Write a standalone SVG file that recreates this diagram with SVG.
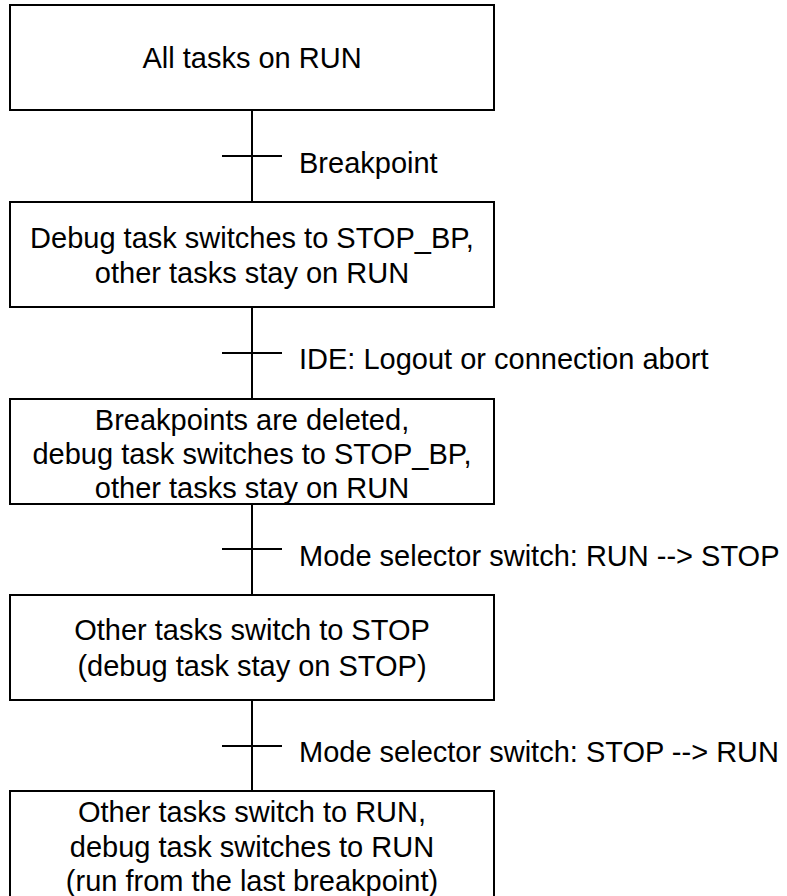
<svg xmlns="http://www.w3.org/2000/svg" width="787" height="896" viewBox="0 0 787 896">
<style>
.box{fill:#fff;stroke:#000;stroke-width:2}
.ln{stroke:#000;stroke-width:2;fill:none}
text{font-family:"Liberation Sans",Arial,sans-serif;font-size:29px;fill:#000}
.c{text-anchor:middle}
</style>
<rect width="787" height="896" fill="#fff"/>
<g id="connectors">
<line class="ln" x1="252" y1="110" x2="252" y2="202"/>
<line class="ln" x1="222" y1="156" x2="282" y2="156"/>
<line class="ln" x1="252" y1="307" x2="252" y2="399"/>
<line class="ln" x1="222" y1="353" x2="282" y2="353"/>
<line class="ln" x1="252" y1="504" x2="252" y2="595"/>
<line class="ln" x1="222" y1="549" x2="282" y2="549"/>
<line class="ln" x1="252" y1="700" x2="252" y2="791"/>
<line class="ln" x1="222" y1="746" x2="282" y2="746"/>
<text x="299" y="173">Breakpoint</text>
<text x="299" y="369">IDE: Logout or connection abort</text>
<text x="299" y="566">Mode selector switch: RUN --&gt; STOP</text>
<text x="299" y="762">Mode selector switch: STOP --&gt; RUN</text>
</g>
<g id="n1">
<rect class="box" x="10" y="5" width="484" height="105"/>
<text class="c" x="252" y="68">All tasks on RUN</text>
</g>
<g id="n2">
<rect class="box" x="10" y="202" width="484" height="105"/>
<text class="c" x="252" y="248">Debug task switches to STOP_BP,</text>
<text class="c" x="252" y="283">other tasks stay on RUN</text>
</g>
<g id="n3">
<rect class="box" x="10" y="399" width="484" height="105"/>
<text class="c" x="252" y="430">Breakpoints are deleted,</text>
<text class="c" x="252" y="464">debug task switches to STOP_BP,</text>
<text class="c" x="252" y="498">other tasks stay on RUN</text>
</g>
<g id="n4">
<rect class="box" x="10" y="595" width="484" height="105"/>
<text class="c" x="252" y="640">Other tasks switch to STOP</text>
<text class="c" x="252" y="676">(debug task stay on STOP)</text>
</g>
<g id="n5">
<rect class="box" x="10" y="791" width="484" height="120"/>
<text class="c" x="252" y="822">Other tasks switch to RUN,</text>
<text class="c" x="252" y="857">debug task switches to RUN</text>
<text class="c" x="252" y="891">(run from the last breakpoint)</text>
</g>
</svg>
